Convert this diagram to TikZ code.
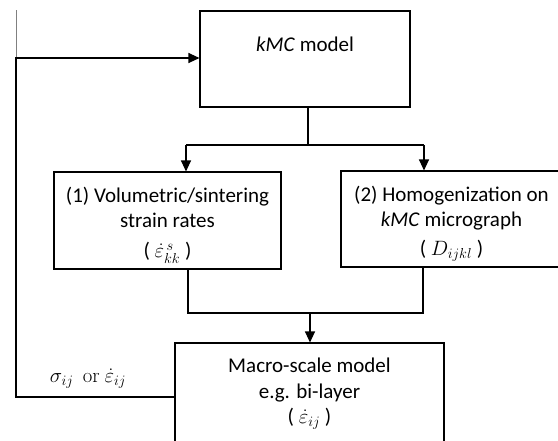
\documentclass[tikz,border=0pt]{standalone}
\usepackage[no-math]{fontspec}
\setmainfont{Carlito}
\usetikzlibrary{arrows.meta}

\tikzset{
  box/.style={draw, line width=1.1pt, align=center, inner sep=0pt},
  link/.style={line width=1.1pt},
  arr/.style={link, -{Triangle[length=11pt,width=10pt]}},
}

\begin{document}
\begin{tikzpicture}[x=1pt, y=-1pt, font=\fontsize{21}{25}\selectfont]
  \useasboundingbox (0,0) rectangle (558,440);

  % boxes
  \node[box, minimum width=210, minimum height=96] (kmc) at (305,59) {\textit{kMC} model\\[4pt]};
  \node[box, minimum width=227, minimum height=97] (vol) at (167.5,220.5)
    {\rule{0pt}{25pt}(1) Volumetric/sintering\\ strain rates\\[5pt] ( $\dot{\varepsilon}^{\,s}_{kk}$ )};
  \node[box, minimum width=221, minimum height=96] (hom) at (451.5,219)
    {\rule{0pt}{25pt}(2) Homogenization on\\ \textit{kMC} micrograph\\[4pt] ( $D_{ijkl}$ )};
  \node[box, minimum width=269, minimum height=102] (mac) at (309.5,394)
    {Macro-scale model\\[1pt] e.g. bi-layer\\ ( $\dot{\varepsilon}_{ij}$ )};

  % split below the kMC model
  \coordinate (split) at (308,145);
  \coordinate (s1) at (186,145);
  \coordinate (s2) at (424,145);
  \draw[link] (split |- kmc.south) -- (split);
  \draw[link] (s1) -- (s2);
  \draw[arr] (s1) -- (s1 |- vol.north);
  \draw[arr] (s2) -- (s2 |- hom.north);

  % join into the macro-scale model
  \coordinate (j1) at (188,313);
  \coordinate (j2) at (423,313);
  \coordinate (jm) at (310,313);
  \draw[link] (j1 |- vol.south) -- (j1) -- (j2) -- (j2 |- hom.south);
  \draw[arr] (jm) -- (jm |- mac.north);

  % feedback loop
  \coordinate (fb) at (16,397);
  \coordinate (top) at (16,58);
  \coordinate (tip) at (16,10);
  \draw[gray, line width=0.9pt] (tip) -- (top);
  \draw[arr] (mac.west |- fb) -- (fb) -- (top) -- (top -| kmc.west);
  \node[] (lab) at (88,379) {$\sigma_{ij}$\ \ $\mathrm{or}$\ $\dot{\varepsilon}_{ij}$};

\end{tikzpicture}
\end{document}
